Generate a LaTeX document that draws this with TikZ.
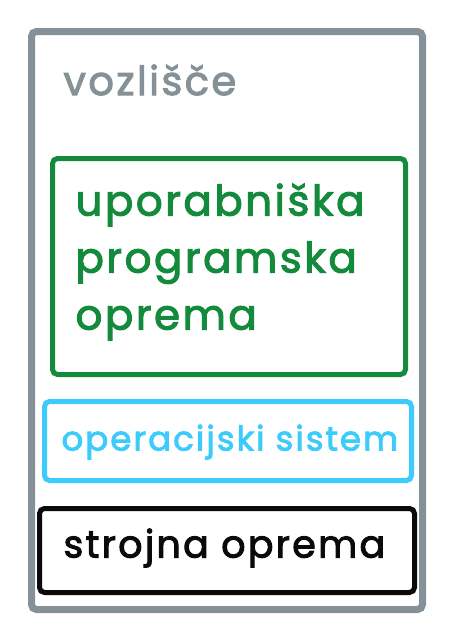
\documentclass[tikz,border=0pt]{standalone}
\usepackage{fontspec}
\setmainfont{Poppins}[FakeBold=2.5, LetterSpace=6]
\usepackage{xcolor}
\definecolor{nodegray}{HTML}{859196}
\definecolor{appgreen}{HTML}{138A3C}
\definecolor{oscyan}{HTML}{3CCBFB}
\definecolor{hwblack}{HTML}{0A0A0A}
\usetikzlibrary{positioning}

\begin{document}
\begin{tikzpicture}[
        x=1pt, y=-1pt,
        layer/.style={
            rectangle,
            rounded corners=5pt,
            line width=5pt,
            align=left,
            anchor=north west,
            inner xsep=22pt
        },
        label/.style={
            font=\fontsize{#1}{57}\selectfont,
            anchor=west
        }
    ]

    % page size
    \useasboundingbox (0,0) rectangle (458,621);

    % node frame
    \node[layer, draw=nodegray, line width=7pt, minimum width=391pt, minimum height=578pt] (vozlisce) at (28,28) {};
    \node[label=40, text=nodegray] (vozlisceText) at (60,80) {vozlišče};

    % layers
    \node[layer, draw=appgreen, minimum width=353pt, minimum height=216pt] (aplikacije) at (50,156) {};
    \node[label=42, text=appgreen, align=left] (aplikacijeText) at (72,262) {uporabniška\\programska\\oprema};

    \node[layer, draw=oscyan, minimum width=367pt, minimum height=79pt] (os) at (42,399) {};
    \node[label=34, text=oscyan] (osText) at (58,442) {operacijski sistem};

    \node[layer, draw=hwblack, minimum width=375pt, minimum height=84pt] (strojna) at (37,506) {};
    \node[label=38, text=hwblack] (strojnaText) at (60,548) {strojna oprema};

\end{tikzpicture}
\end{document}
